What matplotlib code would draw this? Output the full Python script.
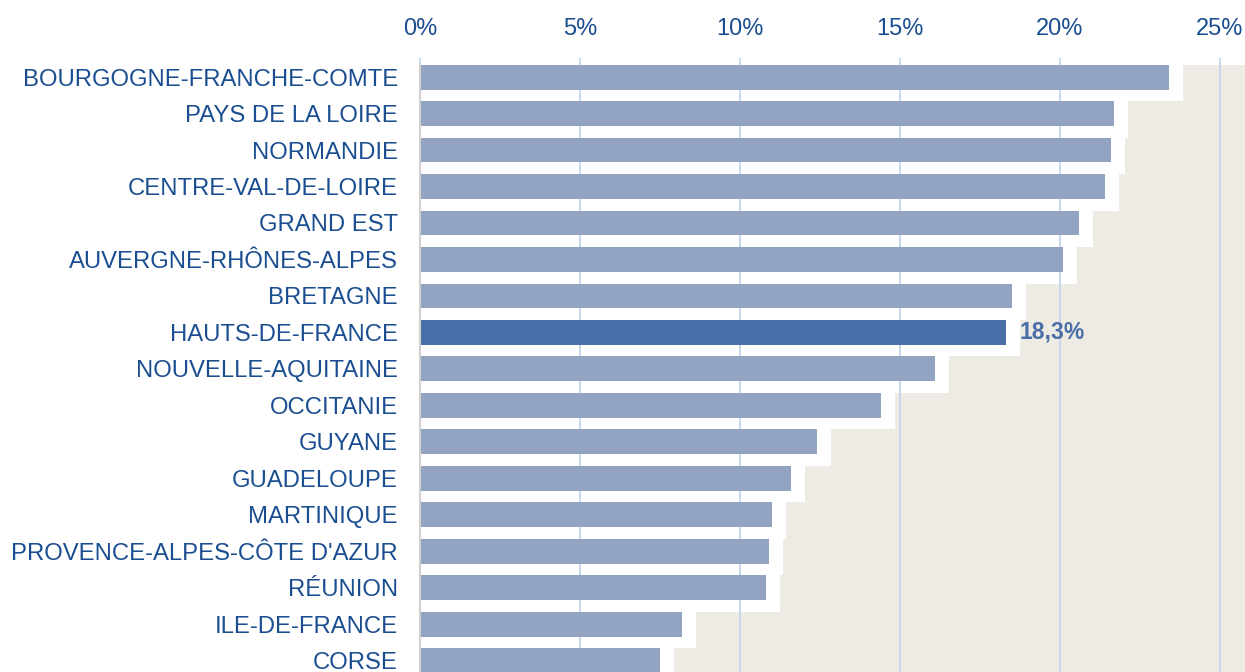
import numpy as np
import matplotlib.pyplot as plt
from matplotlib.ticker import FuncFormatter

plt.rcParams['font.family'] = ['Liberation Sans', 'DejaVu Sans']

# Data (share in %)
regions = ["BOURGOGNE-FRANCHE-COMTE", "PAYS DE LA LOIRE", "NORMANDIE",
           "CENTRE-VAL-DE-LOIRE", "GRAND EST", "AUVERGNE-RHÔNES-ALPES",
           "BRETAGNE", "HAUTS-DE-FRANCE", "NOUVELLE-AQUITAINE", "OCCITANIE",
           "GUYANE", "GUADELOUPE", "MARTINIQUE", "PROVENCE-ALPES-CÔTE D'AZUR",
           "RÉUNION", "ILE-DE-FRANCE", "CORSE"]
values = [23.4, 21.7, 21.6, 21.4, 20.6, 20.1, 18.5, 18.3, 16.1, 14.4,
          12.4, 11.6, 11.0, 10.9, 10.8, 8.2, 7.5]
highlight = "HAUTS-DE-FRANCE"
xticks = [0, 5, 10, 15, 20, 25]

text_color = "#1A4E90"
bar_color = "#93A4C3"
hi_color = "#4A6EA8"
grid_color = "#C3D4EC"
bg_color = "#EEEBE5"

bar_h = 0.68
pos = np.arange(len(regions))

fig = plt.figure(figsize=(12.45, 6.72), dpi=100)
ax = fig.add_axes([420 / 1245, 0, 825 / 1245, (672 - 64.7) / 672])
ax.set_facecolor(bg_color)

# white step band behind each bar
ax.barh(pos + 0.5 - bar_h / 2, np.array(values) + 0.44, height=1.0,
        color="white", zorder=1)

colors = [hi_color if r == highlight else bar_color for r in regions]
ax.barh(pos, values, height=bar_h, color=colors, zorder=2)

i = regions.index(highlight)
ax.text(values[i] + 0.44, pos[i], f"{values[i]:.1f}%".replace(".", ","),
        va="center", ha="left", fontsize=16.5, fontweight="bold",
        color=hi_color, zorder=3)

ax.set_xlim(0, 825 / 32)
ax.set_ylim(-bar_h / 2 + 16.65, -bar_h / 2)

ax.set_axisbelow("line")
ax.xaxis.tick_top()
ax.set_xticks(xticks)
ax.xaxis.set_major_formatter(FuncFormatter(lambda v, p: f"{v:.0f}%"))
ax.grid(axis="x", color=grid_color, linewidth=1.3)
ax.tick_params(axis="x", length=5, width=1.3, color=grid_color, pad=12.5,
               labelsize=17, labelcolor=text_color)

ax.set_yticks(pos)
ax.set_yticklabels(regions)
ax.tick_params(axis="y", length=0, pad=16, labelsize=17.2, labelcolor=text_color)

for s in ["top", "right", "bottom"]:
    ax.spines[s].set_visible(False)
ax.spines["left"].set_color("#D0D0D0")
ax.spines["left"].set_linewidth(1.5)

fig.savefig("out.png", dpi=100)
